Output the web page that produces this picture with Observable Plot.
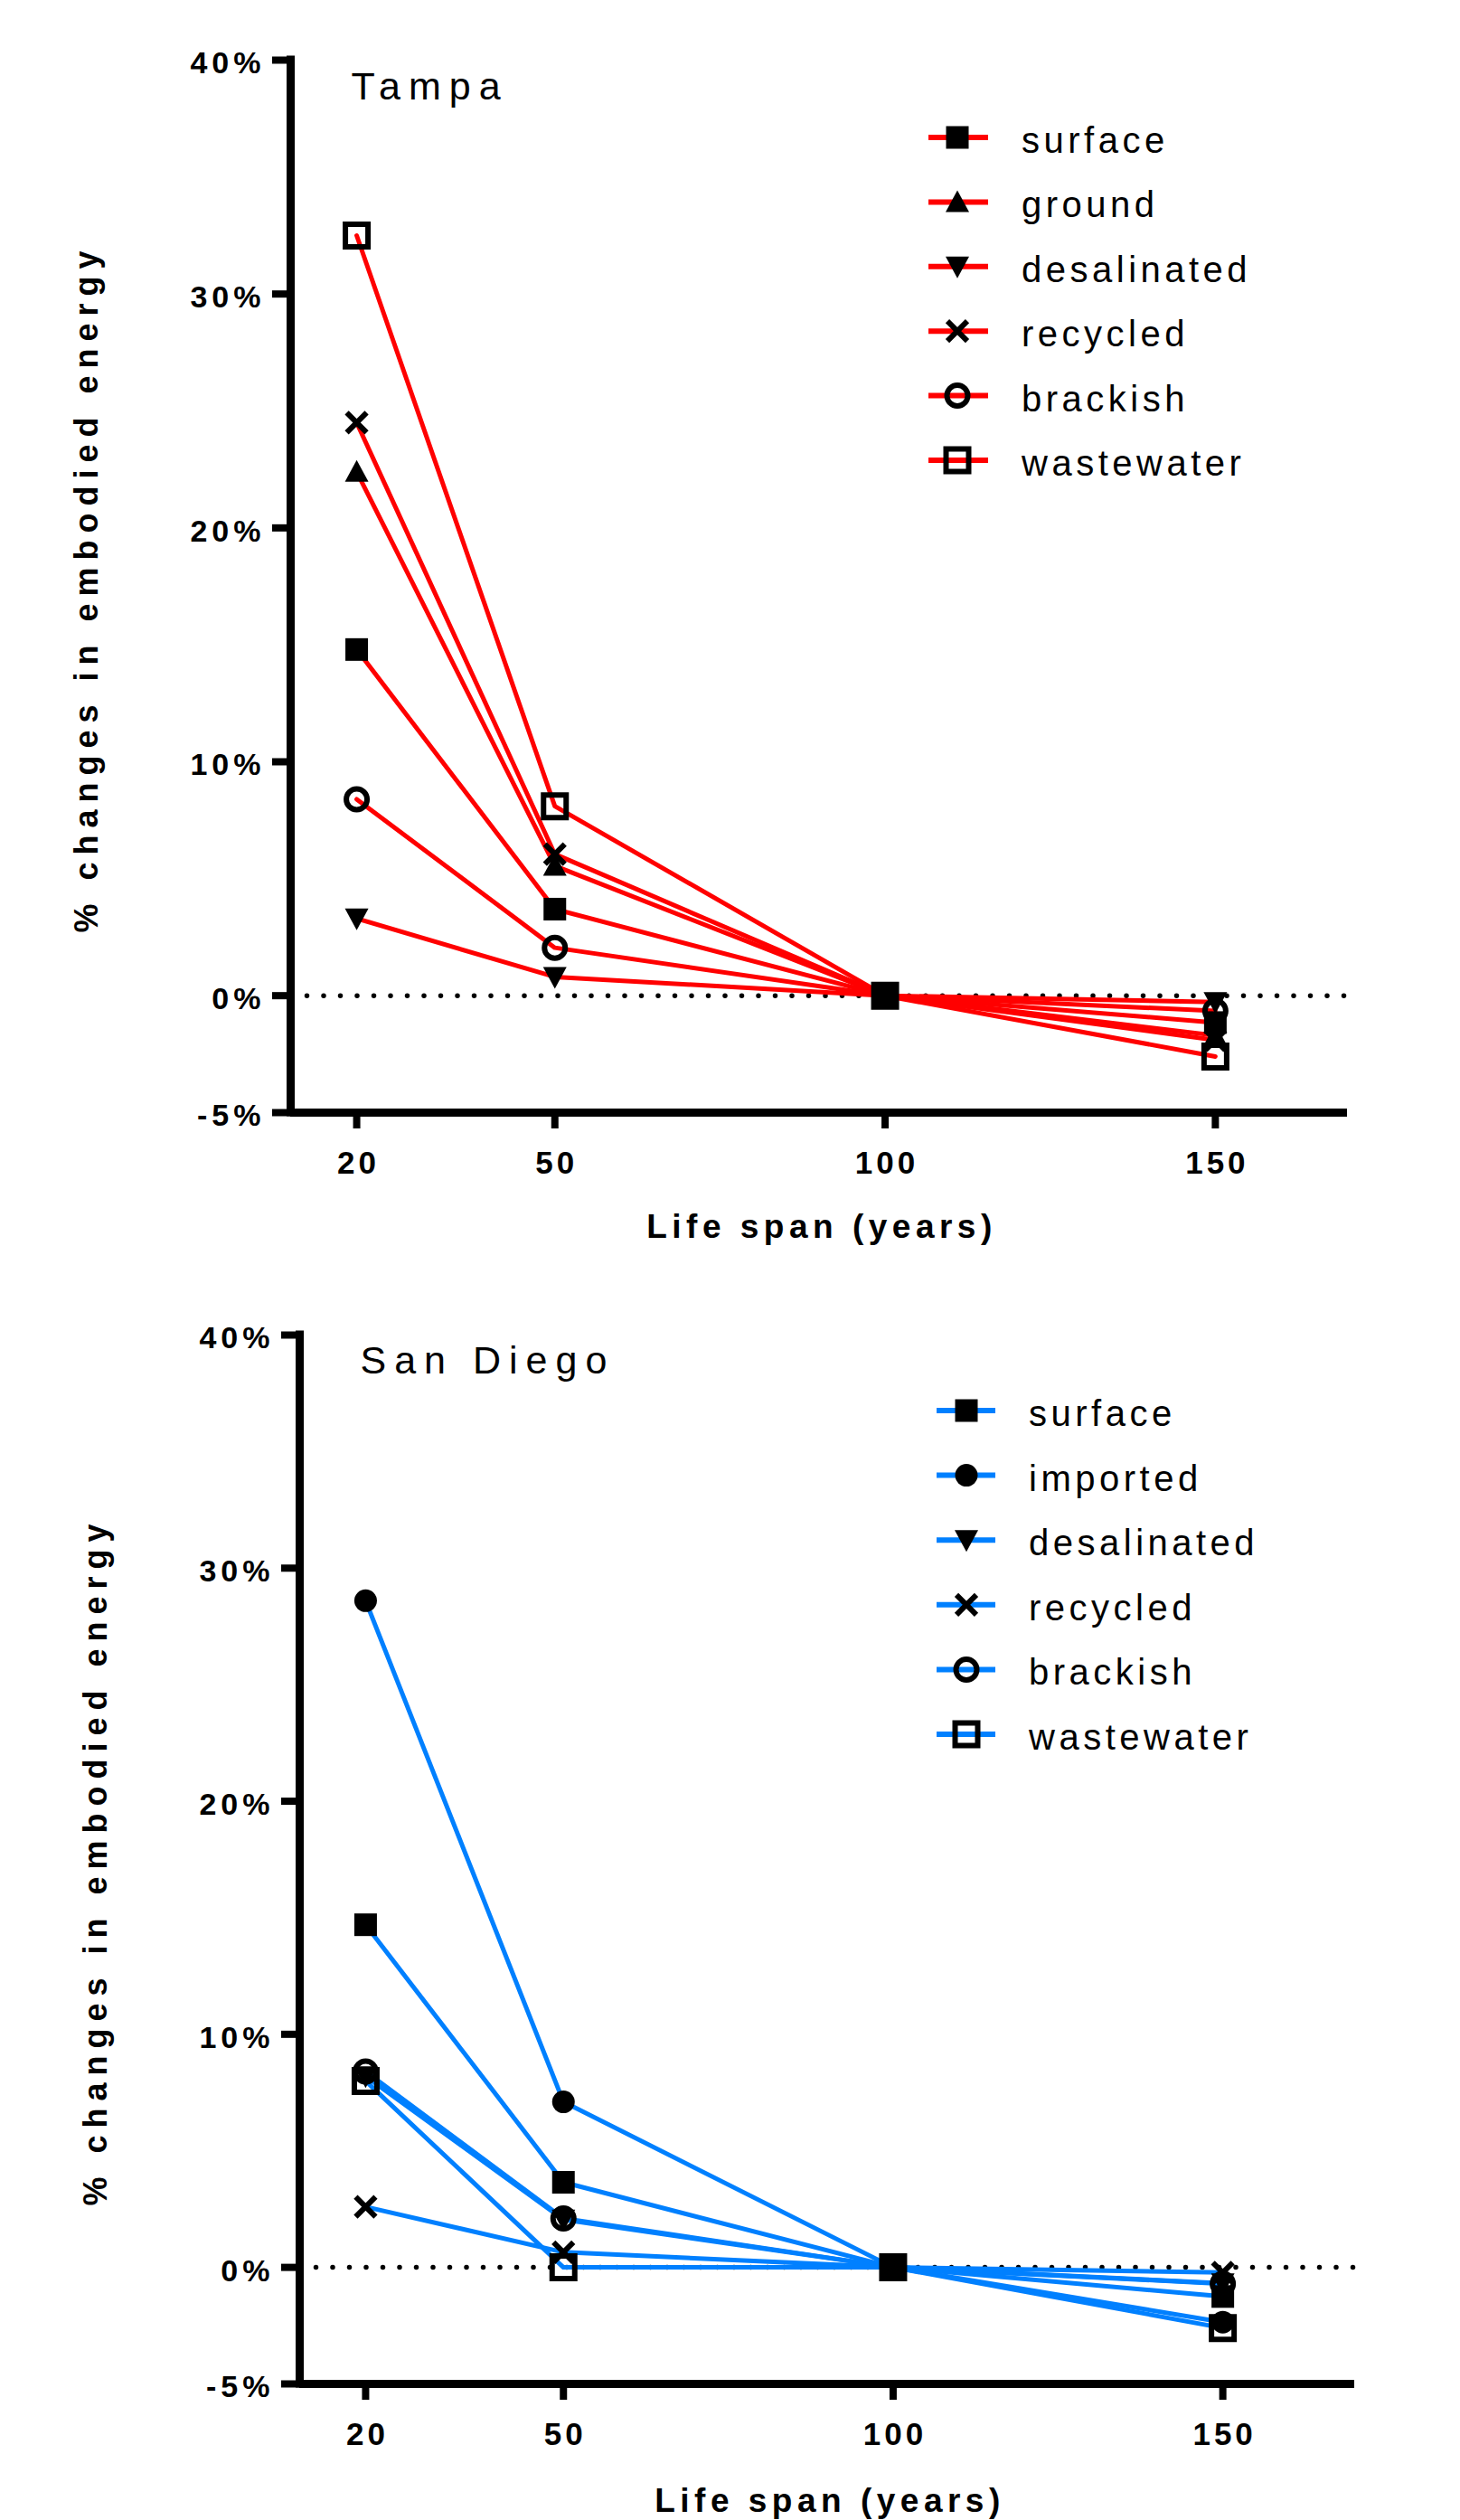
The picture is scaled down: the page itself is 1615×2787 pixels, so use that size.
<!DOCTYPE html>
<html>
<head>
<meta charset="utf-8">
<script src="https://cdn.jsdelivr.net/npm/d3@7"></script>
<script src="https://cdn.jsdelivr.net/npm/@observablehq/plot@0.6"></script>
<style>
html,body{margin:0;padding:0;background:#fff;}
#page{position:relative;width:1615px;height:2787px;overflow:hidden;background:#fff;font-family:"Liberation Sans",Arial,sans-serif;}
#strip{position:absolute;left:0;top:0;width:6px;height:2787px;background:linear-gradient(#163f7e,#2f4562);}
.chart{position:absolute;left:0;}
.chart svg{overflow:visible;}
g[aria-label="y-axis tick label"] text{letter-spacing:5px;}
g[aria-label="x-axis tick label"] text{letter-spacing:4px;}
.legend-label{letter-spacing:4.5px;}
</style>
</head>
<body>
<div id="page"><div id="strip"></div><div id="top" class="chart" style="top:0px"></div><div id="bottom" class="chart" style="top:1400px"></div></div>
<script>
// ---------- data ----------
const lifeSpans = [20, 50, 100, 150];
const yTicks = [-5, 0, 10, 20, 30, 40];
const xTitle = "Life span (years)";
const yTitle = "% changes in embodied energy";

const tampaTitle = "Tampa";
const tampaSeries = ["surface", "ground", "desalinated", "recycled", "brackish", "wastewater"];
const tampaSurface     = [14.8, 3.7, 0, -1.15];
const tampaGround      = [22.4, 5.55, 0, -1.7];
const tampaDesalinated = [3.3, 0.8, 0, -0.27];
const tampaRecycled    = [24.5, 6.05, 0, -1.9];
const tampaBrackish    = [8.4, 2.05, 0, -0.65];
const tampaWastewater  = [32.5, 8.1, 0, -2.6];

const sdTitle = "San Diego";
const sdSeries = ["surface", "imported", "desalinated", "recycled", "brackish", "wastewater"];
const sdSurface     = [14.7, 3.65, 0, -1.25];
const sdImported    = [28.6, 7.1, 0, -2.35];
const sdDesalinated = [8.2, 2.05, 0, -0.68];
const sdRecycled    = [2.6, 0.65, 0, -0.22];
const sdBrackish    = [8.4, 2.1, 0, -0.7];
const sdWastewater  = [8.0, 0, 0, -2.6];

// ---------- symbols ----------
const SYM = {
  squareFilled: {draw(c){ c.rect(-12.5, -12.5, 25, 25); }},
  triUp: {draw(c){ c.moveTo(0, -13); c.lineTo(13, 11); c.lineTo(-13, 11); c.closePath(); }},
  triDown: {draw(c){ c.moveTo(0, 13); c.lineTo(13, -11); c.lineTo(-13, -11); c.closePath(); }},
  times: {draw(c){ c.moveTo(-11, -11); c.lineTo(11, 11); c.moveTo(11, -11); c.lineTo(-11, 11); }},
  circleOpen: {draw(c){ c.moveTo(11.5, 0); c.arc(0, 0, 11.5, 0, 2 * Math.PI); c.closePath(); }},
  squareOpen: {draw(c){ c.rect(-12.5, -12.5, 25, 25); }},
  circleFilled: {draw(c){ c.moveTo(12.5, 0); c.arc(0, 0, 12.5, 0, 2 * Math.PI); c.closePath(); }}
};
const symbolOf = {
  surface: ["squareFilled", true],
  ground: ["triUp", true],
  imported: ["circleFilled", true],
  desalinated: ["triDown", true],
  recycled: ["times", false],
  brackish: ["circleOpen", false],
  wastewater: ["squareOpen", false]
};

function buildRows(series, values) {
  const rows = [];
  series.forEach((s, i) => lifeSpans.forEach((x, j) => rows.push({series: s, x, y: values[i][j]})));
  return rows;
}

function symPath(sym) { const p = d3.path(); sym.draw(p, 0); return p.toString(); }

function makeChart(cfg) {
  const rows = buildRows(cfg.series, cfg.values);
  const dotMarks = cfg.series.map(s => {
    const [name, filled] = symbolOf[s];
    return Plot.dot(rows.filter(d => d.series === s), {
      x: "x", y: "y", r: 5, symbol: SYM[name],
      fill: filled ? "black" : "none",
      stroke: filled ? "none" : "black",
      strokeWidth: filled ? 0 : 6
    });
  });
  const svg = Plot.plot({
    width: 1615, height: cfg.height,
    marginLeft: cfg.ml, marginRight: cfg.mr, marginTop: cfg.mt, marginBottom: cfg.mb,
    x: {domain: [10, 170], axis: null},
    y: {domain: [-5, 40], axis: null},
    style: {fontFamily: '"Liberation Sans", Arial, sans-serif', background: "white", color: "black", overflow: "visible"},
    marks: [
      Plot.ruleY([0], {stroke: "black", strokeWidth: 5.5, strokeDasharray: "0,18.5", strokeLinecap: "round"}),
      Plot.line(rows, {x: "x", y: "y", z: "series", stroke: cfg.color, strokeWidth: 5, strokeLinejoin: "round"}),
      ...dotMarks,
      Plot.ruleX([10], {y1: () => -5, y2: () => 40, stroke: "black", strokeWidth: 9, strokeLinecap: "square"}),
      Plot.ruleY([-5], {x1: () => 10, x2: () => 170, stroke: "black", strokeWidth: 9}),
      Plot.axisY(yTicks, {anchor: "left", tickSize: 20, strokeWidth: 8, fill: "none", label: null}),
      Plot.axisY(yTicks, {anchor: "left", tickSize: 20, tickPadding: 8, stroke: "none", dy: 4, tickFormat: d => d + "%", fontSize: 34, fontWeight: "bold", label: null}),
      Plot.axisX(lifeSpans, {anchor: "bottom", tickSize: 18, strokeWidth: 8, fill: "none", label: null}),
      Plot.axisX(lifeSpans, {anchor: "bottom", tickSize: 18, tickPadding: 25, stroke: "none", dx: 2, tickFormat: d => String(d), fontSize: 35, fontWeight: "bold", label: null}),
      Plot.text([cfg.title], {text: d => d, frameAnchor: "top-left", textAnchor: "start", lineAnchor: "top", dx: 67, dy: cfg.titleDy, fontSize: 43}),
      Plot.text([yTitle], {text: d => d, frameAnchor: "left", textAnchor: "middle", lineAnchor: "middle", rotate: -90, dx: -225, dy: 2, fontSize: 36, fontWeight: "bold"}),
      Plot.text([xTitle], {text: d => d, frameAnchor: "bottom", textAnchor: "middle", lineAnchor: "top", dx: 3, dy: cfg.xTitleDy, fontSize: 37, fontWeight: "bold"})
    ]
  });
  // letter spacing on titles
  const spacing = {[cfg.title]: "9px", [yTitle]: "8px", [xTitle]: "5.5px"};
  d3.select(svg).selectAll("text").each(function() {
    const t = this.textContent;
    if (spacing[t] && this.children.length === 0) d3.select(this).style("letter-spacing", spacing[t]);
  });
  // legend
  const lg = d3.select(svg).append("g").attr("aria-label", "legend");
  cfg.series.forEach((s, i) => {
    const y = cfg.legY0 + i * cfg.legStep;
    const [name, filled] = symbolOf[s];
    const g = lg.append("g");
    g.append("line").attr("x1", cfg.legX1).attr("x2", cfg.legX2).attr("y1", y).attr("y2", y)
      .attr("stroke", cfg.color).attr("stroke-width", 6);
    g.append("path").attr("d", symPath(SYM[name])).attr("transform", `translate(${cfg.legMx},${y})`)
      .attr("fill", filled ? "black" : "none").attr("stroke", filled ? "none" : "black").attr("stroke-width", filled ? 0 : 6);
    g.append("text").attr("class", "legend-label").attr("x", cfg.legTx).attr("y", y + 17)
      .attr("text-anchor", "start").attr("font-size", 40).attr("fill", "black").text(s);
  });
  return svg;
}

document.getElementById("top").appendChild(makeChart({
  series: tampaSeries,
  values: [tampaSurface, tampaGround, tampaDesalinated, tampaRecycled, tampaBrackish, tampaWastewater],
  color: "#ff0000", title: tampaTitle,
  height: 1400, ml: 321, mr: 125, mt: 66, mb: 170,
  titleDy: 13, xTitleDy: 112,
  legX1: 1027, legX2: 1093, legMx: 1059, legTx: 1130, legY0: 152, legStep: 71.4
}));
document.getElementById("bottom").appendChild(makeChart({
  series: sdSeries,
  values: [sdSurface, sdImported, sdDesalinated, sdRecycled, sdBrackish, sdWastewater],
  color: "#0080ff", title: sdTitle,
  height: 1387, ml: 331, mr: 117, mt: 76, mb: 151,
  titleDy: 12, xTitleDy: 115,
  legX1: 1036, legX2: 1101, legMx: 1069, legTx: 1138, legY0: 160, legStep: 71.6
}));
</script>
</body>
</html>
